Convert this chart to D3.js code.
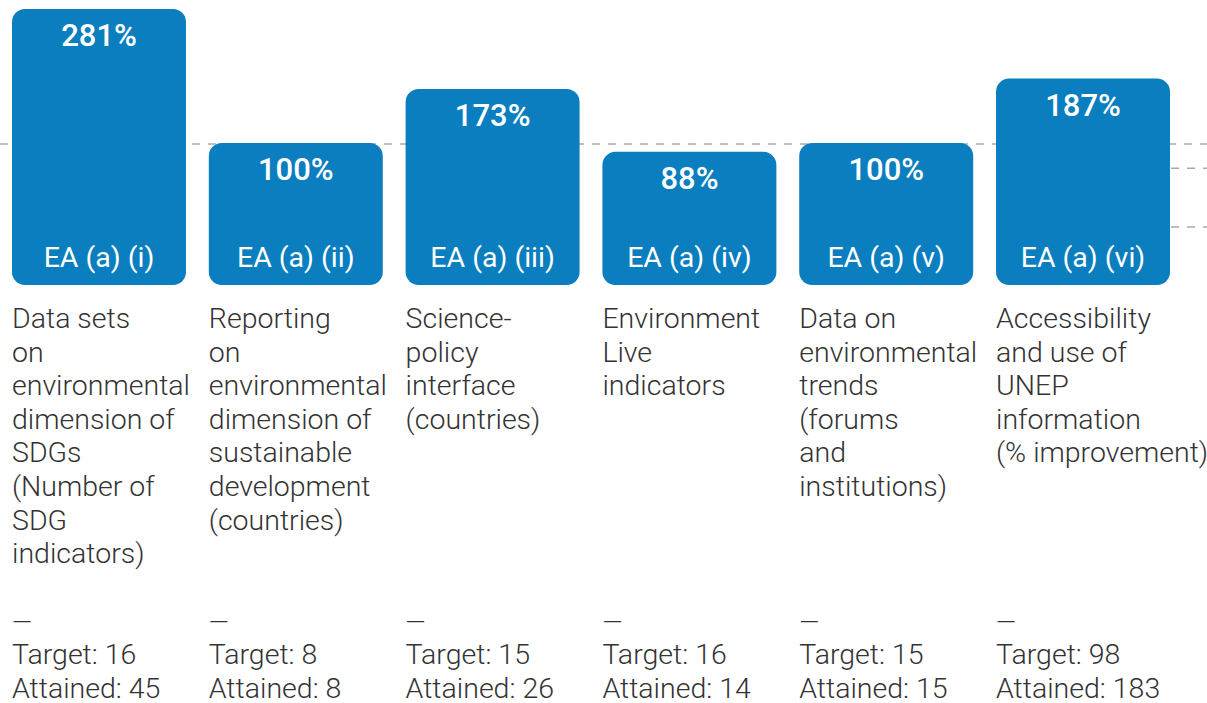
<!DOCTYPE html>
<html>
<head>
<meta charset="utf-8">
<script src="https://cdn.jsdelivr.net/npm/d3@7"></script>
<style>
  html, body { margin: 0; padding: 0; background: #ffffff; }
  svg { display: block; }
</style>
</head>
<body>
<svg id="chart" width="1207" height="703"></svg>
<script>
// ---- data ----
const codes = ["EA (a) (i)", "EA (a) (ii)", "EA (a) (iii)", "EA (a) (iv)", "EA (a) (v)", "EA (a) (vi)"];
const percents = [281, 100, 173, 88, 100, 187];
const targets = [16, 8, 15, 16, 15, 98];
const attained = [45, 8, 26, 14, 15, 183];
const descriptions = [
  ["Data sets", "on", "environmental", "dimension of", "SDGs", "(Number of", "SDG", "indicators)"],
  ["Reporting", "on", "environmental", "dimension of", "sustainable", "development", "(countries)"],
  ["Science-", "policy", "interface", "(countries)"],
  ["Environment", "Live", "indicators"],
  ["Data on", "environmental", "trends", "(forums", "and", "institutions)"],
  ["Accessibility", "and use of", "UNEP", "information", "(% improvement)"]
];
const referenceLine = 100;          // full-width dashed line (100% of target)
const edgeLines = [66, -13.5];      // short dashed lines at the right edge

// ---- layout ----
const W = 1207;
const blue = "#0a7ebe";
const labelPad = 68;
const x = d3.scaleBand().domain(codes).range([12, 1170]).paddingInner(0.116).paddingOuter(0);
const y = d3.scaleLinear().domain([0, 281]).range([217, 9]);
const base = y(0) + labelPad;

const svg = d3.select("#chart");

svg.append("line")
  .attr("x1", 0).attr("x2", W)
  .attr("y1", y(referenceLine) + 1).attr("y2", y(referenceLine) + 1)
  .attr("stroke", "#a9a9a9").attr("stroke-width", 1.5)
  .attr("stroke-dasharray", "8,8");

svg.selectAll("line.edge").data(edgeLines).enter().append("line")
  .attr("class", "edge")
  .attr("x1", x.range()[1]).attr("x2", W)
  .attr("y1", d => y(d)).attr("y2", d => y(d))
  .attr("stroke", "#a9a9a9").attr("stroke-width", 1.5)
  .attr("stroke-dasharray", "8,8")
  .attr("stroke-dashoffset", -1);

const data = codes.map((c, i) => ({
  code: c, pct: percents[i], target: targets[i], attained: attained[i], desc: descriptions[i]
}));

const g = svg.selectAll("g.col").data(data).enter().append("g").attr("class", "col");

g.append("rect")
  .attr("x", d => x(d.code))
  .attr("y", d => y(d.pct))
  .attr("width", x.bandwidth())
  .attr("height", d => base - y(d.pct))
  .attr("rx", 13).attr("ry", 13)
  .attr("fill", blue);

g.append("text")
  .attr("x", d => x(d.code) + x.bandwidth() / 2)
  .attr("y", d => y(d.pct) + 37)
  .attr("text-anchor", "middle")
  .attr("fill", "#ffffff")
  .style("font-family", "'Roboto Medium', Roboto")
  .style("font-weight", 500)
  .style("font-size", "31px")
  .text(d => d.pct + "%");

g.append("text")
  .attr("x", d => x(d.code) + x.bandwidth() / 2)
  .attr("y", base - 18)
  .attr("text-anchor", "middle")
  .attr("fill", "#ffffff")
  .style("font-family", "Roboto")
  .style("font-weight", 400)
  .style("font-size", "28.5px")
  .text(d => d.code);

const lh = 33.6;
const lightFont = "'Roboto Light', Roboto";
g.append("text")
  .attr("fill", "#333333")
  .style("font-family", lightFont)
  .style("font-weight", 300)
  .style("font-size", "28.5px")
  .each(function(d) {
    const t = d3.select(this);
    d.desc.forEach((line, k) => {
      t.append("tspan")
        .attr("x", x(d.code))
        .attr("y", base + 43 + k * lh)
        .text(line);
    });
  });

const bottomY = 631;
g.append("text")
  .attr("fill", "#333333")
  .style("font-family", lightFont)
  .style("font-weight", 300)
  .style("font-size", "28.5px")
  .each(function(d) {
    const t = d3.select(this);
    ["\u2014", "Target: " + d.target, "Attained: " + d.attained].forEach((line, k) => {
      t.append("tspan")
        .attr("x", x(d.code))
        .attr("y", bottomY + k * 33.3)
        .style("font-size", k === 0 ? "26px" : null)
        .text(line);
    });
  });
</script>
</body>
</html>
